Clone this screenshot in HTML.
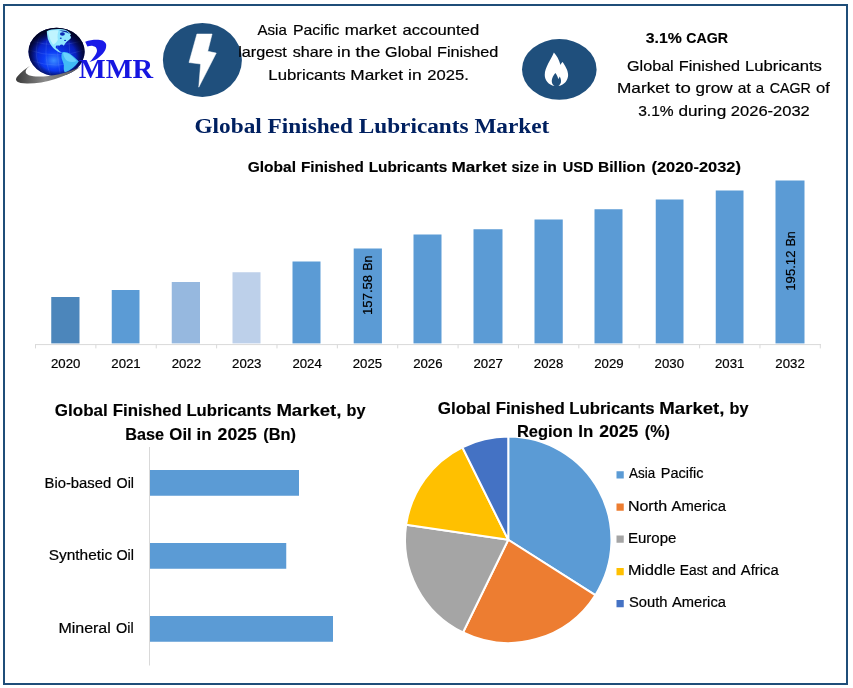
<!DOCTYPE html>
<html lang="en">
<head>
<meta charset="utf-8">
<title>Global Finished Lubricants Market</title>
<style>
html,body{margin:0;padding:0;background:#fff;}
body{width:853px;height:688px;overflow:hidden;}
svg{display:block;}
text{font-family:"Liberation Sans", "DejaVu Sans", sans-serif;fill:#000;stroke:#000;stroke-width:0.2px;}
.b{font-weight:700;}
.b{stroke-width:0.15px;}
.serif{font-family:"Liberation Serif", "DejaVu Serif", serif;font-weight:700;stroke:none;}
</style>
</head>
<body>
<svg width="853" height="688" viewBox="0 0 853 688">
<defs>
<radialGradient id="gl" cx="0.45" cy="0.68" r="0.6">
<stop offset="0" stop-color="#3a8cff"/>
<stop offset="0.3" stop-color="#0c3cf5"/>
<stop offset="0.7" stop-color="#0820c0"/>
<stop offset="1" stop-color="#050c70"/>
</radialGradient>
<radialGradient id="rim" cx="0.5" cy="0.56" r="0.56">
<stop offset="0.6" stop-color="#02052e" stop-opacity="0"/>
<stop offset="0.82" stop-color="#02052e" stop-opacity="0.7"/>
<stop offset="0.95" stop-color="#01031e" stop-opacity="0.97"/>
<stop offset="1" stop-color="#01031e" stop-opacity="1"/>
</radialGradient>
<linearGradient id="sw" x1="0" y1="0" x2="1" y2="0">
<stop offset="0" stop-color="#3a3a3a"/>
<stop offset="0.45" stop-color="#8a8a8a"/>
<stop offset="1" stop-color="#5a5a5a"/>
</linearGradient>
</defs>
<rect x="0" y="0" width="853" height="688" fill="#ffffff"/>
<rect x="4" y="5" width="843" height="679" fill="none" stroke="#1f4e79" stroke-width="2"/>

<g id="logo">
<g transform="translate(24 24) scale(0.08137)">
<ellipse cx="400" cy="342" rx="345" ry="297" fill="url(#gl)"/>
<g fill="none" stroke="#8fb4ff" stroke-width="4" opacity="0.5"><path d="M330 60 C250 200 250 480 330 630"/><path d="M230 100 C120 230 130 470 230 590"/><path d="M430 50 C400 250 410 450 450 635"/><path d="M540 80 C560 250 570 430 560 600"/><path d="M60 320 Q400 440 740 320"/><path d="M85 450 Q400 560 715 450"/><path d="M90 210 Q400 300 710 210"/></g>
<ellipse cx="400" cy="342" rx="345" ry="297" fill="url(#rim)"/>
<path d="M280 88 C320 66 400 58 475 66 C515 72 550 92 578 125 L565 140 C580 152 582 168 570 180 C552 195 535 205 522 220 C508 236 498 250 490 266 L474 254 C460 248 446 254 436 266 C424 266 408 260 396 266 C386 278 388 294 400 302 C414 312 428 324 436 336 C448 343 460 346 472 349 C456 354 438 350 420 340 C396 326 372 308 354 288 C330 262 312 232 300 200 C288 165 282 125 280 88 Z" fill="#8fe6ff"/>
<path d="M296 96 C335 78 385 74 425 80 C414 110 408 150 416 195 C404 222 384 244 358 255 C336 222 316 185 306 142 Z" fill="#c8f6ff" opacity="0.85"/>
<ellipse cx="472" cy="122" rx="30" ry="22" fill="#0b2ab5"/>
<path d="M432 76 L522 86 L566 124 L524 104 L472 92 Z" fill="#0c279f"/>
<ellipse cx="452" cy="174" rx="12" ry="9" fill="#0f35c0"/>
<ellipse cx="505" cy="202" rx="13" ry="7" fill="#1238c8"/>
<path d="M472 348 C502 338 540 350 568 368 C600 390 636 420 672 458 C652 492 622 522 590 547 C560 570 525 587 500 594 C486 570 488 540 490 510 C488 480 470 450 462 420 C458 395 460 368 472 348 Z" fill="#41baf5"/>
<path d="M480 356 C512 348 548 364 578 386 C604 406 628 430 648 455 C612 472 570 472 535 456 C505 436 487 396 480 356 Z" fill="#74d8ff" opacity="0.8"/>
</g>
<g transform="translate(10 20) scale(0.12547)">
<path d="M160 365 C118 395 112 425 150 440 C220 465 420 445 562 372 C450 455 270 508 135 506 C55 504 30 482 60 448 C85 418 120 390 160 365 Z" fill="url(#sw)"/>
</g>
<path d="M85.2 41.65 C87 40.8 89 40.4 90.9 40.2 C93.5 39.8 96 39.7 98.3 39.8 C100.5 39.9 102.5 40.4 103.7 41.2 C105.5 42.3 106.3 43.8 106.2 45.4 C106.2 46.5 106 47.7 105.7 48.8 C105.2 50.5 104 52.3 102.7 53.8 C101.3 55.4 99.6 56.9 97.8 58.2 C95.5 59.8 92.5 61.2 89.4 62 C91 60.7 92.3 59.2 93.3 57.7 C94.6 56.2 95.6 54.8 96.3 53.3 C96.8 52.3 97.1 51.3 97 50.3 C96.9 49.2 96.5 48.2 95.8 47.3 C95 46.5 94 46 92.8 45.9 C91 45.7 89 46 87.4 46.6 Z" fill="#1a1ae8"/>
<text x="78.80" y="78.2" font-size="26.4" textLength="74.38" lengthAdjust="spacingAndGlyphs" class="serif" style="fill:#1616e0">MMR</text>
</g>
<ellipse cx="202.4" cy="59.9" rx="39.5" ry="37" fill="#1f4f7c"/>
<path d="M196.9 34 L212.1 34 L207.75 51.25 L216.25 53.1 L198.75 87.2 L200.6 64 L189 62.5 Z" fill="#fff" stroke="#fff" stroke-width="0.5" stroke-linejoin="round"/>
<text x="257.50" y="34.6" font-size="15" textLength="29.26" lengthAdjust="spacingAndGlyphs">Asia</text>
<text x="292.92" y="34.6" font-size="15" textLength="46.64" lengthAdjust="spacingAndGlyphs">Pacific</text>
<text x="344.66" y="34.6" font-size="15" textLength="51.75" lengthAdjust="spacingAndGlyphs">market</text>
<text x="402.55" y="34.6" font-size="15" textLength="76.63" lengthAdjust="spacingAndGlyphs">accounted</text>
<text x="238.22" y="57.4" font-size="15" textLength="48.63" lengthAdjust="spacingAndGlyphs">largest</text>
<text x="292.74" y="57.4" font-size="15" textLength="40.31" lengthAdjust="spacingAndGlyphs">share</text>
<text x="337.12" y="57.4" font-size="15" textLength="13.50" lengthAdjust="spacingAndGlyphs">in</text>
<text x="355.59" y="57.4" font-size="15" textLength="24.70" lengthAdjust="spacingAndGlyphs">the</text>
<text x="385.10" y="57.4" font-size="15" textLength="46.77" lengthAdjust="spacingAndGlyphs">Global</text>
<text x="436.97" y="57.4" font-size="15" textLength="61.40" lengthAdjust="spacingAndGlyphs">Finished</text>
<text x="268.38" y="79.8" font-size="15" textLength="77.38" lengthAdjust="spacingAndGlyphs">Lubricants</text>
<text x="350.29" y="79.8" font-size="15" textLength="52.66" lengthAdjust="spacingAndGlyphs">Market</text>
<text x="408.12" y="79.8" font-size="15" textLength="13.57" lengthAdjust="spacingAndGlyphs">in</text>
<text x="427.24" y="79.8" font-size="15" textLength="41.55" lengthAdjust="spacingAndGlyphs">2025.</text>
<ellipse cx="559.3" cy="69.4" rx="37.3" ry="30.3" fill="#1f4f7c"/>
<path d="M553.88 52.50 C556.62 55.38 559.12 59.75 560.50 65.00 C561.00 63.50 561.75 62.50 562.62 61.88 C564.75 65.38 568.12 69.75 568.12 75.00 C568.12 79.75 564.75 85.00 558.50 86.00 C560.25 84.50 561.25 82.88 561.00 80.50 C560.75 78.75 560.25 77.50 559.62 76.62 C559.38 77.75 558.88 78.50 558.25 79.00 C557.75 76.62 556.62 74.50 555.38 73.00 C553.50 75.38 551.75 78.25 551.75 81.00 C551.75 83.25 552.75 84.75 554.50 86.00 C548.50 84.75 544.75 80.38 544.75 75.00 C544.75 67.25 551.00 59.75 553.88 52.50 Z" fill="#fff"/>
<text x="645.70" y="42.6" font-size="15" textLength="36.10" lengthAdjust="spacingAndGlyphs" class="b">3.1%</text>
<text x="686.27" y="42.6" font-size="15" textLength="41.77" lengthAdjust="spacingAndGlyphs" class="b">CAGR</text>
<text x="627.00" y="70.6" font-size="15" textLength="46.70" lengthAdjust="spacingAndGlyphs">Global</text>
<text x="678.79" y="70.6" font-size="15" textLength="61.31" lengthAdjust="spacingAndGlyphs">Finished</text>
<text x="745.07" y="70.6" font-size="15" textLength="76.88" lengthAdjust="spacingAndGlyphs">Lubricants</text>
<text x="616.95" y="93.4" font-size="15" textLength="52.70" lengthAdjust="spacingAndGlyphs">Market</text>
<text x="675.26" y="93.4" font-size="15" textLength="15.51" lengthAdjust="spacingAndGlyphs">to</text>
<text x="695.59" y="93.4" font-size="15" textLength="36.95" lengthAdjust="spacingAndGlyphs">grow</text>
<text x="737.75" y="93.4" font-size="15" textLength="13.01" lengthAdjust="spacingAndGlyphs">at</text>
<text x="755.84" y="93.4" font-size="15">a</text>
<text x="769.69" y="93.4" font-size="15" textLength="41.21" lengthAdjust="spacingAndGlyphs">CAGR</text>
<text x="816.04" y="93.4" font-size="15" textLength="13.84" lengthAdjust="spacingAndGlyphs">of</text>
<text x="638.20" y="115.5" font-size="15" textLength="35.46" lengthAdjust="spacingAndGlyphs">3.1%</text>
<text x="678.46" y="115.5" font-size="15" textLength="47.75" lengthAdjust="spacingAndGlyphs">during</text>
<text x="730.89" y="115.5" font-size="15" textLength="78.88" lengthAdjust="spacingAndGlyphs">2026-2032</text>
<text x="194.52" y="132.5" font-size="21.6" textLength="354.81" lengthAdjust="spacingAndGlyphs" class="serif" style="fill:#002060">Global Finished Lubricants Market</text>
<text x="247.70" y="172.4" font-size="15" textLength="48.31" lengthAdjust="spacingAndGlyphs" class="b">Global</text>
<text x="300.91" y="172.4" font-size="15" textLength="62.82" lengthAdjust="spacingAndGlyphs" class="b">Finished</text>
<text x="368.65" y="172.4" font-size="15" textLength="78.66" lengthAdjust="spacingAndGlyphs" class="b">Lubricants</text>
<text x="451.41" y="172.4" font-size="15" textLength="55.37" lengthAdjust="spacingAndGlyphs" class="b">Market</text>
<text x="511.43" y="172.4" font-size="15" textLength="27.58" lengthAdjust="spacingAndGlyphs" class="b">size</text>
<text x="542.94" y="172.4" font-size="15" textLength="14.00" lengthAdjust="spacingAndGlyphs" class="b">in</text>
<text x="562.70" y="172.4" font-size="15" textLength="30.80" lengthAdjust="spacingAndGlyphs" class="b">USD</text>
<text x="598.06" y="172.4" font-size="15" textLength="47.50" lengthAdjust="spacingAndGlyphs" class="b">Billion</text>
<text x="651.51" y="172.4" font-size="15" textLength="89.49" lengthAdjust="spacingAndGlyphs" class="b">(2020-2032)</text>
<rect x="51.25" y="297" width="28.25" height="46.40" fill="#4c86bb"/>
<rect x="111.75" y="290" width="27.75" height="53.40" fill="#5b9bd5"/>
<rect x="171.75" y="282" width="28.25" height="61.40" fill="#96b8df"/>
<rect x="232.5" y="272.25" width="28.00" height="71.15" fill="#bdd0ea"/>
<rect x="292.5" y="261.5" width="28.00" height="81.90" fill="#5b9bd5"/>
<rect x="353.7" y="248.5" width="28.20" height="94.90" fill="#5b9bd5"/>
<rect x="413.5" y="234.5" width="28.00" height="108.90" fill="#5b9bd5"/>
<rect x="473.5" y="229.25" width="29.00" height="114.15" fill="#5b9bd5"/>
<rect x="534.5" y="219.5" width="28.25" height="123.90" fill="#5b9bd5"/>
<rect x="594.5" y="209.25" width="28.00" height="134.15" fill="#5b9bd5"/>
<rect x="655.75" y="199.5" width="27.75" height="143.90" fill="#5b9bd5"/>
<rect x="715.75" y="190.5" width="27.75" height="152.90" fill="#5b9bd5"/>
<rect x="775.5" y="180.5" width="29.00" height="162.90" fill="#5b9bd5"/>
<path d="M35.0 344.6 H821" stroke="#d9d9d9" stroke-width="1" fill="none"/>
<path d="M35.50 344.6 v3.8M95.87 344.6 v3.8M156.24 344.6 v3.8M216.61 344.6 v3.8M276.98 344.6 v3.8M337.35 344.6 v3.8M397.72 344.6 v3.8M458.09 344.6 v3.8M518.46 344.6 v3.8M578.83 344.6 v3.8M639.20 344.6 v3.8M699.57 344.6 v3.8M759.94 344.6 v3.8M820.31 344.6 v3.8" stroke="#d9d9d9" stroke-width="1" fill="none"/>
<text x="50.94" y="367.9" font-size="12.6" textLength="29.40" lengthAdjust="spacingAndGlyphs">2020</text>
<text x="111.30" y="367.9" font-size="12.6" textLength="29.40" lengthAdjust="spacingAndGlyphs">2021</text>
<text x="171.67" y="367.9" font-size="12.6" textLength="29.40" lengthAdjust="spacingAndGlyphs">2022</text>
<text x="232.04" y="367.9" font-size="12.6" textLength="29.40" lengthAdjust="spacingAndGlyphs">2023</text>
<text x="292.41" y="367.9" font-size="12.6" textLength="29.40" lengthAdjust="spacingAndGlyphs">2024</text>
<text x="352.78" y="367.9" font-size="12.6" textLength="29.40" lengthAdjust="spacingAndGlyphs">2025</text>
<text x="413.15" y="367.9" font-size="12.6" textLength="29.40" lengthAdjust="spacingAndGlyphs">2026</text>
<text x="473.52" y="367.9" font-size="12.6" textLength="29.40" lengthAdjust="spacingAndGlyphs">2027</text>
<text x="533.89" y="367.9" font-size="12.6" textLength="29.40" lengthAdjust="spacingAndGlyphs">2028</text>
<text x="594.26" y="367.9" font-size="12.6" textLength="29.40" lengthAdjust="spacingAndGlyphs">2029</text>
<text x="654.63" y="367.9" font-size="12.6" textLength="29.40" lengthAdjust="spacingAndGlyphs">2030</text>
<text x="715.00" y="367.9" font-size="12.6" textLength="29.40" lengthAdjust="spacingAndGlyphs">2031</text>
<text x="775.38" y="367.9" font-size="12.6" textLength="29.40" lengthAdjust="spacingAndGlyphs">2032</text>
<g transform="translate(372.1 315) rotate(-90)">
<text x="0.00" y="0" font-size="12.6" textLength="40.12" lengthAdjust="spacingAndGlyphs">157.58</text>
<text x="44.13" y="0" font-size="12.6" textLength="15.17" lengthAdjust="spacingAndGlyphs">Bn</text>
</g>
<g transform="translate(795.4 290.75) rotate(-90)">
<text x="0.00" y="0" font-size="12.6" textLength="40.25" lengthAdjust="spacingAndGlyphs">195.12</text>
<text x="44.28" y="0" font-size="12.6" textLength="15.22" lengthAdjust="spacingAndGlyphs">Bn</text>
</g>
<text x="54.85" y="416" font-size="16.5" textLength="52.92" lengthAdjust="spacingAndGlyphs" class="b">Global</text>
<text x="112.77" y="416" font-size="16.5" textLength="69.12" lengthAdjust="spacingAndGlyphs" class="b">Finished</text>
<text x="186.42" y="416" font-size="16.5" textLength="85.19" lengthAdjust="spacingAndGlyphs" class="b">Lubricants</text>
<text x="276.40" y="416" font-size="16.5" textLength="65.05" lengthAdjust="spacingAndGlyphs" class="b">Market,</text>
<text x="346.47" y="416" font-size="16.5" textLength="18.97" lengthAdjust="spacingAndGlyphs" class="b">by</text>
<text x="125.32" y="440.3" font-size="16.5" textLength="38.84" lengthAdjust="spacingAndGlyphs" class="b">Base</text>
<text x="169.37" y="440.3" font-size="16.5" textLength="22.44" lengthAdjust="spacingAndGlyphs" class="b">Oil</text>
<text x="196.63" y="440.3" font-size="16.5" textLength="15.02" lengthAdjust="spacingAndGlyphs" class="b">in</text>
<text x="217.63" y="440.3" font-size="16.5" textLength="39.21" lengthAdjust="spacingAndGlyphs" class="b">2025</text>
<text x="263.31" y="440.3" font-size="16.5" textLength="32.68" lengthAdjust="spacingAndGlyphs" class="b">(Bn)</text>
<path d="M149.5 447 V665.5" stroke="#d9d9d9" stroke-width="1" fill="none"/>
<rect x="150" y="470" width="149" height="25.75" fill="#5b9bd5"/>
<rect x="150" y="543" width="136.25" height="25.75" fill="#5b9bd5"/>
<rect x="150" y="616" width="183" height="25.75" fill="#5b9bd5"/>
<text x="44.49" y="487.5" font-size="14.7" textLength="66.78" lengthAdjust="spacingAndGlyphs">Bio-based</text>
<text x="116.52" y="487.5" font-size="14.7" textLength="17.48" lengthAdjust="spacingAndGlyphs">Oil</text>
<text x="48.75" y="560" font-size="14.7" textLength="63.45" lengthAdjust="spacingAndGlyphs">Synthetic</text>
<text x="116.40" y="560" font-size="14.7" textLength="17.60" lengthAdjust="spacingAndGlyphs">Oil</text>
<text x="58.41" y="633.25" font-size="14.7" textLength="52.41" lengthAdjust="spacingAndGlyphs">Mineral</text>
<text x="116.09" y="633.25" font-size="14.7" textLength="17.67" lengthAdjust="spacingAndGlyphs">Oil</text>
<path d="M508.25 539.75 L508.25 436.55 A103.2 103.2 0 0 1 595.29 595.20 Z" fill="#5b9bd5" stroke="#fff" stroke-width="2" stroke-linejoin="round"/>
<path d="M508.25 539.75 L595.29 595.20 A103.2 103.2 0 0 1 463.01 632.51 Z" fill="#ed7d31" stroke="#fff" stroke-width="2" stroke-linejoin="round"/>
<path d="M508.25 539.75 L463.01 632.51 A103.2 103.2 0 0 1 406.16 524.67 Z" fill="#a5a5a5" stroke="#fff" stroke-width="2" stroke-linejoin="round"/>
<path d="M508.25 539.75 L406.16 524.67 A103.2 103.2 0 0 1 462.36 447.31 Z" fill="#ffc000" stroke="#fff" stroke-width="2" stroke-linejoin="round"/>
<path d="M508.25 539.75 L462.36 447.31 A103.2 103.2 0 0 1 508.25 436.55 Z" fill="#4472c4" stroke="#fff" stroke-width="2" stroke-linejoin="round"/>
<text x="437.70" y="414.2" font-size="16.5" textLength="52.95" lengthAdjust="spacingAndGlyphs" class="b">Global</text>
<text x="495.65" y="414.2" font-size="16.5" textLength="69.15" lengthAdjust="spacingAndGlyphs" class="b">Finished</text>
<text x="569.34" y="414.2" font-size="16.5" textLength="85.23" lengthAdjust="spacingAndGlyphs" class="b">Lubricants</text>
<text x="659.35" y="414.2" font-size="16.5" textLength="65.08" lengthAdjust="spacingAndGlyphs" class="b">Market,</text>
<text x="729.46" y="414.2" font-size="16.5" textLength="18.97" lengthAdjust="spacingAndGlyphs" class="b">by</text>
<text x="516.90" y="437.1" font-size="16.5" textLength="55.88" lengthAdjust="spacingAndGlyphs" class="b">Region</text>
<text x="578.31" y="437.1" font-size="16.5" textLength="14.99" lengthAdjust="spacingAndGlyphs" class="b">In</text>
<text x="599.25" y="437.1" font-size="16.5" textLength="39.07" lengthAdjust="spacingAndGlyphs" class="b">2025</text>
<text x="644.77" y="437.1" font-size="16.5" textLength="25.21" lengthAdjust="spacingAndGlyphs" class="b">(%)</text>
<rect x="616.5" y="471.25" width="7.25" height="7.25" fill="#5b9bd5"/>
<text x="629.00" y="478.25" font-size="14.7" textLength="26.14" lengthAdjust="spacingAndGlyphs">Asia</text>
<text x="660.81" y="478.25" font-size="14.7" textLength="42.78" lengthAdjust="spacingAndGlyphs">Pacific</text>
<rect x="616.5" y="503.5" width="7.25" height="7.25" fill="#ed7d31"/>
<text x="627.91" y="510.5" font-size="14.7" textLength="39.14" lengthAdjust="spacingAndGlyphs">North</text>
<text x="671.58" y="510.5" font-size="14.7" textLength="54.33" lengthAdjust="spacingAndGlyphs">America</text>
<rect x="616.5" y="535.5" width="7.25" height="7.25" fill="#a5a5a5"/>
<text x="627.98" y="542.5" font-size="14.7" textLength="48.45" lengthAdjust="spacingAndGlyphs">Europe</text>
<rect x="616.5" y="568" width="7.25" height="7.25" fill="#ffc000"/>
<text x="627.90" y="575" font-size="14.7" textLength="47.60" lengthAdjust="spacingAndGlyphs">Middle</text>
<text x="679.81" y="575" font-size="14.7" textLength="27.59" lengthAdjust="spacingAndGlyphs">East</text>
<text x="712.05" y="575" font-size="14.7" textLength="24.11" lengthAdjust="spacingAndGlyphs">and</text>
<text x="740.89" y="575" font-size="14.7" textLength="37.77" lengthAdjust="spacingAndGlyphs">Africa</text>
<rect x="616.5" y="600" width="7.25" height="7.25" fill="#4472c4"/>
<text x="629.00" y="607" font-size="14.7" textLength="38.45" lengthAdjust="spacingAndGlyphs">South</text>
<text x="671.97" y="607" font-size="14.7" textLength="53.95" lengthAdjust="spacingAndGlyphs">America</text>
</svg>
</body>
</html>
